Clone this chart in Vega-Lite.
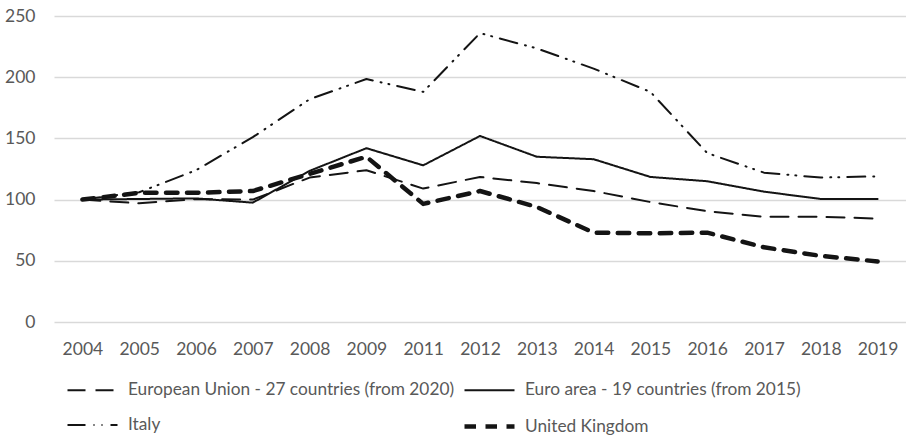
{
  "$schema": "https://vega.github.io/schema/vega-lite/v6.json",
  "width": 852,
  "height": 306,
  "autosize": {"type": "none"},
  "padding": {"left": 54, "top": 16, "right": 0, "bottom": 115},
  "config": {"view": {"stroke": null}, "font": "Lato"},
  "datasets": {
    "rows": [
      {"series": "European Union - 27 countries (from 2020)", "year": "2004", "value": 100},
      {"series": "European Union - 27 countries (from 2020)", "year": "2005", "value": 97},
      {"series": "European Union - 27 countries (from 2020)", "year": "2006", "value": 100.5},
      {"series": "European Union - 27 countries (from 2020)", "year": "2007", "value": 100},
      {"series": "European Union - 27 countries (from 2020)", "year": "2008", "value": 118},
      {"series": "European Union - 27 countries (from 2020)", "year": "2009", "value": 124},
      {"series": "European Union - 27 countries (from 2020)", "year": "2011", "value": 109},
      {"series": "European Union - 27 countries (from 2020)", "year": "2012", "value": 118.5},
      {"series": "European Union - 27 countries (from 2020)", "year": "2013", "value": 113.5},
      {"series": "European Union - 27 countries (from 2020)", "year": "2014", "value": 107},
      {"series": "European Union - 27 countries (from 2020)", "year": "2015", "value": 98},
      {"series": "European Union - 27 countries (from 2020)", "year": "2016", "value": 90.5},
      {"series": "European Union - 27 countries (from 2020)", "year": "2017", "value": 86},
      {"series": "European Union - 27 countries (from 2020)", "year": "2018", "value": 86},
      {"series": "European Union - 27 countries (from 2020)", "year": "2019", "value": 84.5},
      {"series": "Euro area - 19 countries  (from 2015)", "year": "2004", "value": 100},
      {"series": "Euro area - 19 countries  (from 2015)", "year": "2005", "value": 100.5},
      {"series": "Euro area - 19 countries  (from 2015)", "year": "2006", "value": 101},
      {"series": "Euro area - 19 countries  (from 2015)", "year": "2007", "value": 97.5},
      {"series": "Euro area - 19 countries  (from 2015)", "year": "2008", "value": 123.5},
      {"series": "Euro area - 19 countries  (from 2015)", "year": "2009", "value": 142},
      {"series": "Euro area - 19 countries  (from 2015)", "year": "2011", "value": 128},
      {"series": "Euro area - 19 countries  (from 2015)", "year": "2012", "value": 152},
      {"series": "Euro area - 19 countries  (from 2015)", "year": "2013", "value": 135},
      {"series": "Euro area - 19 countries  (from 2015)", "year": "2014", "value": 133},
      {"series": "Euro area - 19 countries  (from 2015)", "year": "2015", "value": 118.5},
      {"series": "Euro area - 19 countries  (from 2015)", "year": "2016", "value": 115},
      {"series": "Euro area - 19 countries  (from 2015)", "year": "2017", "value": 106.5},
      {"series": "Euro area - 19 countries  (from 2015)", "year": "2018", "value": 100.5},
      {"series": "Euro area - 19 countries  (from 2015)", "year": "2019", "value": 100.5},
      {"series": "Italy", "year": "2004", "value": 100},
      {"series": "Italy", "year": "2005", "value": 106},
      {"series": "Italy", "year": "2006", "value": 124},
      {"series": "Italy", "year": "2007", "value": 151},
      {"series": "Italy", "year": "2008", "value": 182},
      {"series": "Italy", "year": "2009", "value": 198.5},
      {"series": "Italy", "year": "2011", "value": 188},
      {"series": "Italy", "year": "2012", "value": 236},
      {"series": "Italy", "year": "2013", "value": 223.5},
      {"series": "Italy", "year": "2014", "value": 207},
      {"series": "Italy", "year": "2015", "value": 188},
      {"series": "Italy", "year": "2016", "value": 138},
      {"series": "Italy", "year": "2017", "value": 122},
      {"series": "Italy", "year": "2018", "value": 118},
      {"series": "Italy", "year": "2019", "value": 119},
      {"series": "United Kingdom", "year": "2004", "value": 100},
      {"series": "United Kingdom", "year": "2005", "value": 105.5},
      {"series": "United Kingdom", "year": "2006", "value": 105.5},
      {"series": "United Kingdom", "year": "2007", "value": 107},
      {"series": "United Kingdom", "year": "2008", "value": 121},
      {"series": "United Kingdom", "year": "2009", "value": 135},
      {"series": "United Kingdom", "year": "2011", "value": 96.5},
      {"series": "United Kingdom", "year": "2012", "value": 107},
      {"series": "United Kingdom", "year": "2013", "value": 94},
      {"series": "United Kingdom", "year": "2014", "value": 73},
      {"series": "United Kingdom", "year": "2015", "value": 72.5},
      {"series": "United Kingdom", "year": "2016", "value": 73},
      {"series": "United Kingdom", "year": "2017", "value": 61},
      {"series": "United Kingdom", "year": "2018", "value": 54},
      {"series": "United Kingdom", "year": "2019", "value": 49.5}
    ]
  },
  "data": {"name": "rows"},
  "mark": {"type": "line", "strokeCap": "round", "strokeJoin": "round", "color": "#141414"},
  "encoding": {
    "x": {
      "field": "year",
      "type": "ordinal",
      "scale": {"type": "point", "padding": 0.5},
      "axis": {
        "title": null,
        "domain": false,
        "ticks": false,
        "tickSize": 0,
        "grid": false,
        "labelAngle": 0,
        "labelFontSize": 17.5,
        "labelColor": "#595959",
        "labelPadding": 18
      }
    },
    "y": {
      "field": "value",
      "type": "quantitative",
      "scale": {"domain": [0, 250], "nice": false},
      "axis": {
        "title": null,
        "values": [0, 50, 100, 150, 200, 250],
        "domain": false,
        "ticks": false,
        "tickSize": 0,
        "grid": true,
        "gridColor": "#d9d9d9",
        "gridWidth": 1.5,
        "labelFontSize": 17.5,
        "labelColor": "#595959",
        "labelPadding": 19
      }
    },
    "strokeDash": {
      "field": "series",
      "type": "ordinal",
      "scale": {
        "domain": ["European Union - 27 countries (from 2020)", "Euro area - 19 countries  (from 2015)", "Italy", "United Kingdom"],
        "range": [[18, 10], [1, 0], [18, 8, 1, 7, 1, 8], [11.5, 9.5]]
      },
      "legend": {
        "title": null,
        "orient": "none",
        "legendX": 11,
        "legendY": 348,
        "columns": 2,
        "direction": "horizontal",
        "symbolType": "stroke",
        "symbolSize": 2500,
        "symbolStrokeColor": "#141414",
        "labelFontSize": 17.3,
        "labelColor": "#595959",
        "labelLimit": 0,
        "labelOffset": 8,
        "columnPadding": 0,
        "rowPadding": 0,
        "padding": 0
      }
    },
    "strokeWidth": {
      "field": "series",
      "type": "ordinal",
      "scale": {
        "type": "ordinal",
        "domain": ["European Union - 27 countries (from 2020)", "Euro area - 19 countries  (from 2015)", "Italy", "United Kingdom"],
        "range": [2, 2, 2, 4.5]
      },
      "legend": {
        "title": null,
        "orient": "none",
        "legendX": 11,
        "legendY": 348,
        "columns": 2,
        "direction": "horizontal",
        "symbolType": "stroke",
        "symbolSize": 2500,
        "symbolStrokeColor": "#141414",
        "labelFontSize": 17.3,
        "labelColor": "#595959",
        "labelLimit": 0,
        "labelOffset": 8,
        "columnPadding": 0,
        "rowPadding": 0,
        "padding": 0
      }
    }
  }
}
